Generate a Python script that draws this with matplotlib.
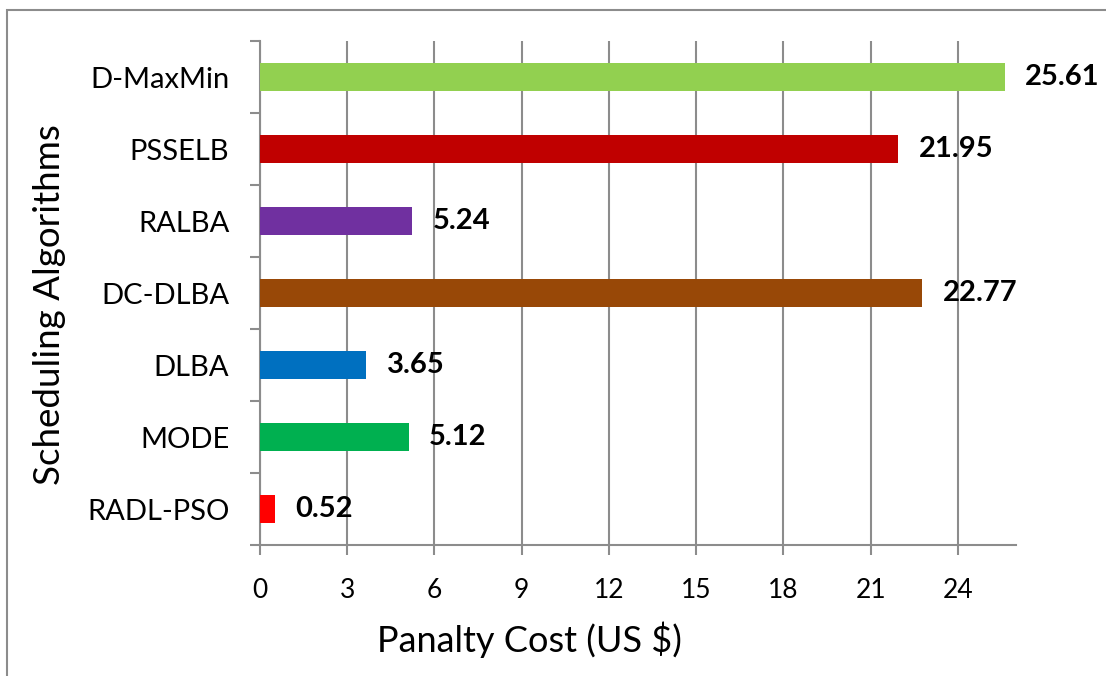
import matplotlib.pyplot as plt
from matplotlib.patches import Rectangle
import numpy as np

# chart data, bottom to top as drawn
algorithms = ["RADL-PSO", "MODE", "DLBA", "DC-DLBA", "RALBA", "PSSELB", "D-MaxMin"]
penalty = [0.52, 5.12, 3.65, 22.77, 5.24, 21.95, 25.61]
bar_colors = ["#FF0000", "#00B050", "#0070C0", "#984807", "#7030A0", "#C00000", "#92D050"]
x_ticks = [0, 3, 6, 9, 12, 15, 18, 21, 24]

plt.rcParams['font.family'] = ['Lato', 'DejaVu Sans']
grey = "#8C8C8C"

fig = plt.figure(figsize=(11.06, 6.76), dpi=100)
ax = fig.add_axes([260/1106, 1 - 545/676, (1016 - 260)/1106, (545 - 41)/676])

pos = np.arange(len(algorithms))
ax.barh(pos, penalty, height=0.4, color=bar_colors, zorder=3)

for p, v in zip(pos, penalty):
    ax.text(v + 0.7, p, f"{v:.2f}", va="center", ha="left",
            fontsize=21, fontweight="bold", color="black")

ax.set_xlim(0, 26)
ax.set_ylim(-0.5, len(algorithms) - 0.5)
ax.set_xticks(x_ticks)
ax.tick_params(axis="x", labelsize=19, length=7, width=1.5, color=grey, pad=17)
ax.xaxis.grid(True, color=grey, linewidth=1.5, zorder=0)

# major y ticks between the categories, labels on minor ticks
ax.set_yticks(np.arange(-0.5, len(algorithms), 1.0))
ax.set_yticklabels([])
ax.set_yticks(pos, minor=True)
ax.set_yticklabels(algorithms, minor=True)
ax.tick_params(axis="y", which="major", length=7, width=1.5, color=grey)
ax.tick_params(axis="y", which="minor", length=0, labelsize=21, pad=22)

for side in ["top", "right"]:
    ax.spines[side].set_visible(False)
for side in ["left", "bottom"]:
    ax.spines[side].set_color(grey)
    ax.spines[side].set_linewidth(1.5)

fig.text(529/1106, 1 - 640/676, "Panalty Cost (US $)", ha="center", va="center", fontsize=26)
fig.text(50/1106, 1 - 305/676, "Scheduling Algorithms", ha="center", va="center",
         rotation=90, fontsize=26.5)

# outer chart border, runs past the right and bottom edges
fig.patches.append(Rectangle((7/1106, -0.1), 1.2, 1.1 - 10/676, transform=fig.transFigure,
                             fill=False, edgecolor=grey, linewidth=1.5))

fig.savefig("out.png", dpi=100)
